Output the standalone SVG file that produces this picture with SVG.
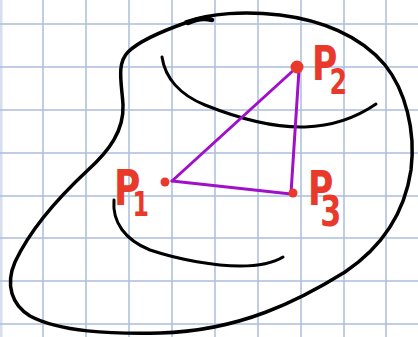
<svg xmlns="http://www.w3.org/2000/svg" width="418" height="337" viewBox="0 0 418 337">
<style>
.grid{stroke:#aabfdc;stroke-width:1.5;fill:none}
.ink{stroke:#000;stroke-width:3.5;fill:none;stroke-linecap:round;stroke-linejoin:round}
.edge{stroke:#a010c8;stroke-width:3;fill:none;stroke-linecap:round}
.pt{fill:#e8392b}
.lbl{fill:#e8392b;font-family:"DejaVu Sans",sans-serif;font-weight:bold}
</style>
<rect width="418" height="337" fill="#fff"/>
<g id="grid">
<rect x="0" y="0" width="2.5" height="337" fill="#d6dfec"/>
<path class="grid" d="M43,0V337M86,0V337M129,0V337M172,0V337M215,0V337M258,0V337M301,0V337M344,0V337M386,0V337M0,24H418M0,67H418M0,110H418M0,153H418M0,196H418M0,238H418M0,281H418M0,324H418"/>
</g>
<g id="region">
<path class="ink" d="M212,20 C205,17 195,19 188,22 C165,30 140,40 128,52 C116,64 122,85 123,105 C124,130 110,150 88,170 C60,196 30,230 15,262 C5,285 12,305 30,316 C60,332 110,334 160,333 C240,331 300,300 345,272 C385,245 405,210 411,170 C416,130 405,90 385,65 C360,35 320,20 280,15 C245,11 210,13 186,22"/>
<path class="ink" style="stroke-width:4.5" d="M188,23 C196,19 205,18 212,20"/>
<path class="ink" style="stroke-width:3" d="M162,57 C165,78 180,95 205,105 C235,117 270,128 305,127 C335,126 360,115 376,104"/>
<path class="ink" style="stroke-width:3" d="M114,200 C112,222 125,240 150,250 C180,260 215,266 240,266 C260,266 275,262 283,257"/>
</g>
<g id="connectors">
<path class="edge" d="M172,181 L296,68"/>
<path class="edge" d="M299,70 L291,193"/>
<path class="edge" d="M172,181 L291,194"/>
</g>
<g id="P1">
<circle class="pt" cx="165" cy="182" r="4.5"/>
<text class="lbl" transform="translate(114,205) scale(0.72,1)"><tspan font-size="50">P</tspan><tspan font-size="33" dx="-11" dy="11">1</tspan></text>
</g>
<g id="P2">
<circle class="pt" cx="297" cy="67" r="6.5"/>
<text class="lbl" transform="translate(312,80) scale(0.72,1)"><tspan font-size="48">P</tspan><tspan font-size="35" dx="-11" dy="14">2</tspan></text>
</g>
<g id="P3">
<circle class="pt" cx="293" cy="193" r="4.5"/>
<text class="lbl" transform="translate(308,205) scale(0.72,1)"><tspan font-size="48">P</tspan><tspan font-size="42" dx="-18" dy="21">3</tspan></text>
</g>
</svg>
